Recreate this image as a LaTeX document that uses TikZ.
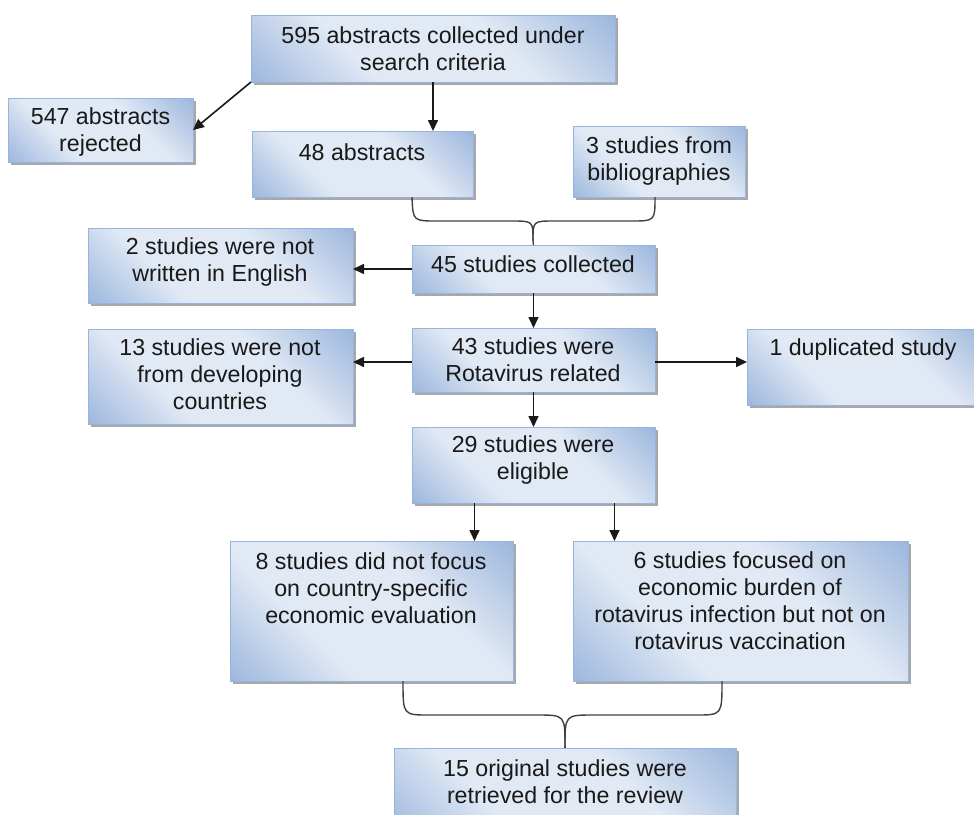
\documentclass[tikz,border=0pt]{standalone}
\usepackage{fontspec}
\setmainfont{Liberation Sans}
\usetikzlibrary{arrows.meta,shadows}
\definecolor{bdk}{RGB}{148,177,218}
\definecolor{blt}{RGB}{225,233,245}
\definecolor{bline}{RGB}{150,180,222}
\definecolor{ink}{RGB}{25,25,25}
\pgfdeclarehorizontalshading{boxshade}{100bp}{color(0bp)=(bdk); color(12bp)=(bdk); color(36bp)=(blt); color(62bp)=(blt); color(88bp)=(bdk); color(100bp)=(bdk)}
\tikzset{
  box/.style={draw=bline, line width=0.8pt, shading=boxshade, shading angle=45,
    inner sep=0pt, outer sep=0pt, anchor=north west,
    drop shadow={shadow xshift=3pt, shadow yshift=-3pt, fill=black!40, opacity=0.85}},
  txt/.style={align=center, text=ink, font=\fontsize{23.2}{27}\selectfont, inner sep=0pt},
  arr/.style={draw=ink, line width=1.6pt, -{Triangle[length=11pt,width=10pt]}},
  brace/.style={draw=black!75, line width=1.4pt}
}
\begin{document}
\begin{tikzpicture}[x=1pt,y=-1pt]
\useasboundingbox (0,0) rectangle (974,814);
\clip (0,0) rectangle (974,814);
% boxes
\node[box, minimum width=364pt, minimum height=67pt] (A) at (251,15) {};
\node[box, minimum width=185pt, minimum height=64pt] (B) at (8,98) {};
\node[box, minimum width=221pt, minimum height=66pt] (C) at (252,131) {};
\node[box, minimum width=172pt, minimum height=71pt] (D) at (573,126) {};
\node[box, minimum width=243pt, minimum height=48pt] (E) at (412,245) {};
\node[box, minimum width=265pt, minimum height=75pt] (F) at (88,228) {};
\node[box, minimum width=243pt, minimum height=64pt] (G) at (412,328) {};
\node[box, minimum width=265pt, minimum height=95pt] (H) at (88,329) {};
\node[box, minimum width=240pt, minimum height=76pt] (M) at (747,329) {};
\node[box, minimum width=243pt, minimum height=76pt] (I) at (412,427) {};
\node[box, minimum width=283pt, minimum height=140pt] (J) at (230,541) {};
\node[box, minimum width=335pt, minimum height=140pt] (K) at (573,541) {};
\node[box, minimum width=342pt, minimum height=90pt] (L) at (394,748) {};
% texts
\node[txt] (At) at (433,48.5) {595 abstracts collected under\\search criteria};
\node[txt] (Bt) at (100.5,131.5) {547 abstracts\\rejected};
\node[txt] (Ct) at (362,152) {48 abstracts};
\node[txt] (Dt) at (659,160.5) {3 studies from\\bibliographies};
\node[txt] (Et) at (533,264) {45 studies collected};
\node[txt] (Ft) at (220,262) {2 studies were not\\written in English};
\node[txt] (Gt) at (533,360) {43 studies were\\Rotavirus related};
\node[txt] (Ht) at (220,374.5) {13 studies were not\\from developing\\countries};
\node[txt] (Mt) at (863,349) {1 duplicated study};
\node[txt] (It) at (533,459.5) {29 studies were\\eligible};
\node[txt] (Jt) at (371,588) {8 studies did not focus\\on country-specific\\economic evaluation};
\node[txt] (Kt) at (740,601) {6 studies focused on\\economic burden of\\rotavirus infection but not on\\rotavirus vaccination};
\node[txt] (Lt) at (565,781.5) {15 original studies were\\retrieved for the review};
% arrows
\draw[arr] (A.south west) -- (B.east);
\draw[arr] (A.south) -- (A.south |- C.north);
\draw[arr] (E.west) -- (E.west -| F.east);
\draw[arr] (E.south) -- (G.north);
\draw[arr] ([yshift=-2pt]G.west) -- ([yshift=-2pt]G.west -| H.east);
\draw[arr] ([yshift=-2pt]G.east) -- ([yshift=-2pt]G.east -| M.west);
\draw[arr] (G.south) -- (I.north);
\draw[arr] ([xshift=-59pt]I.south) -- ([xshift=-59pt]I.south |- J.north);
\draw[arr] ([xshift=81pt]I.south) -- ([xshift=81pt]I.south |- K.north);
% brace 1
\coordinate (p1) at (533,240);
\draw[brace] (C.south -| E.west) .. controls (413,221) .. (437,221) -- (511,221) .. controls (533,221) .. (p1);
\draw[brace] (D.south -| E.east) .. controls (655,221) .. (631,221) -- (555,221) .. controls (533,221) .. (p1);
\draw[brace] (p1) -- (E.north);
% brace 2
\coordinate (p2) at (565,747);
\draw[brace] ([xshift=31.5pt]J.south) .. controls (403,715) .. (429,715) -- (537,715) .. controls (565,715) .. (p2);
\draw[brace] ([xshift=-18.5pt]K.south) .. controls (722,715) .. (696,715) -- (593,715) .. controls (565,715) .. (p2);
\draw[brace] (p2) -- (L.north);
\end{tikzpicture}
\end{document}
